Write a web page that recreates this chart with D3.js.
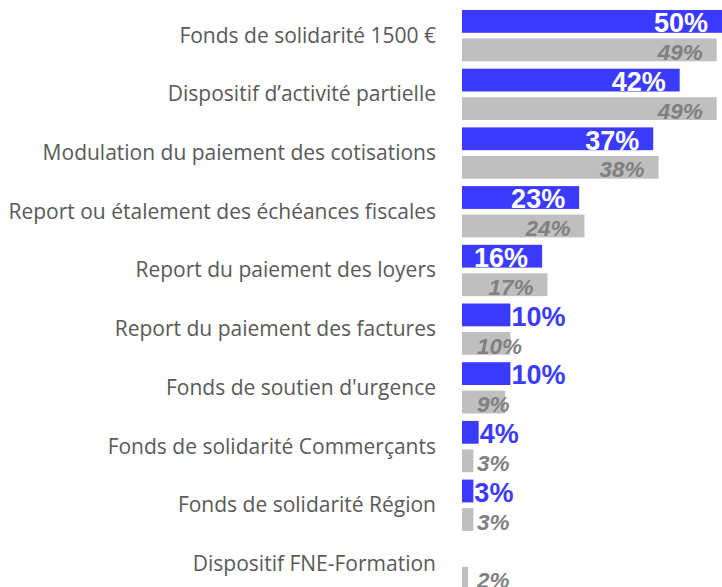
<!DOCTYPE html>
<html>
<head>
<meta charset="utf-8">
<script src="https://cdn.jsdelivr.net/npm/d3@7"></script>
<style>
  html, body { margin: 0; padding: 0; background: #fff; }
  svg { display: block; }
</style>
</head>
<body>
<div id="chart"></div>
<script>
var categories = [
  'Fonds de solidarité 1500 €',
  'Dispositif d’activité partielle',
  'Modulation du paiement des cotisations',
  'Report ou étalement des échéances fiscales',
  'Report du paiement des loyers',
  'Report du paiement des factures',
  "Fonds de soutien d'urgence",
  'Fonds de solidarité Commerçants',
  'Fonds de solidarité Région',
  'Dispositif FNE-Formation'
];
// blue series (current wave), grey series (previous wave)
var current = [50, 42, 37, 23, 16, 10, 10, 4, 3, null];
var previous = [49, 49, 38, 24, 17, 10, 9, 3, 3, 2];
var seriesKeys = ['current', 'previous'];

var width = 722, height = 587;
var margin = { top: 10, left: 462, right: 0 };

var svg = d3.select('#chart')
  .append('svg')
  .attr('width', width)
  .attr('height', height);

// bars start a little right of the zero point
var x = d3.scaleLinear()
  .domain([0, 50])
  .range([457.5, width]);
var x0 = margin.left;

var step = 58.7;
var y = d3.scaleBand()
  .domain(categories)
  .range([margin.top, margin.top + step * (categories.length - 1) + 51.3])
  .paddingInner(0.126)
  .paddingOuter(0);

var ySub = d3.scaleBand()
  .domain(seriesKeys)
  .range([0, y.bandwidth()])
  .paddingInner(0.2);

var colors = { current: '#3b3bff', previous: '#bfbfbf' };

var rows = categories.map(function (c, i) {
  return { cat: c, current: current[i], previous: previous[i] };
});

// category labels
svg.append('g')
  .selectAll('text')
  .data(rows)
  .enter()
  .append('text')
  .attr('x', 436)
  .attr('y', function (d) { return y(d.cat) + y.bandwidth() / 2 + 7; })
  .attr('text-anchor', 'end')
  .style('font-family', '"Open Sans", sans-serif')
  .style('font-size', '21px')
  .style('fill', '#595959')
  .text(function (d) { return d.cat; });

seriesKeys.forEach(function (key) {
  var items = rows.filter(function (d) { return d[key] != null; });
  var g = svg.append('g').attr('class', 'series-' + key);

  g.selectAll('rect')
    .data(items)
    .enter()
    .append('rect')
    .attr('x', x0)
    .attr('y', function (d) { return y(d.cat) + ySub(key); })
    .attr('width', function (d) { return x(d[key]) - x0; })
    .attr('height', ySub.bandwidth())
    .style('fill', colors[key]);

  var labels = g.selectAll('text')
    .data(items)
    .enter()
    .append('text')
    .attr('y', function (d) { return y(d.cat) + ySub(key) + ySub.bandwidth() - (key === 'current' ? 0.5 : 1.3); })
    .style('font-family', '"Liberation Sans", Arial, sans-serif')
    .style('font-weight', 'bold')
    .style('font-size', key === 'current' ? '27px' : '22.5px')
    .style('font-style', key === 'current' ? 'normal' : 'italic')
    .text(function (d) { return d[key] + '%'; });

  labels.each(function (d) {
    var t = d3.select(this);
    var w = this.getComputedTextLength();
    var end = x(d[key]);
    var fits = w + 16 <= end - x0;
    if (fits) {
      t.attr('x', end - 14).attr('text-anchor', 'end')
        .style('fill', key === 'current' ? '#ffffff' : '#808080');
    } else if (key === 'current') {
      t.attr('x', end + 1).attr('text-anchor', 'start').style('fill', colors.current);
    } else {
      t.attr('x', x0 + 15).attr('text-anchor', 'start').style('fill', '#808080');
    }
  });
});
</script>
</body>
</html>
